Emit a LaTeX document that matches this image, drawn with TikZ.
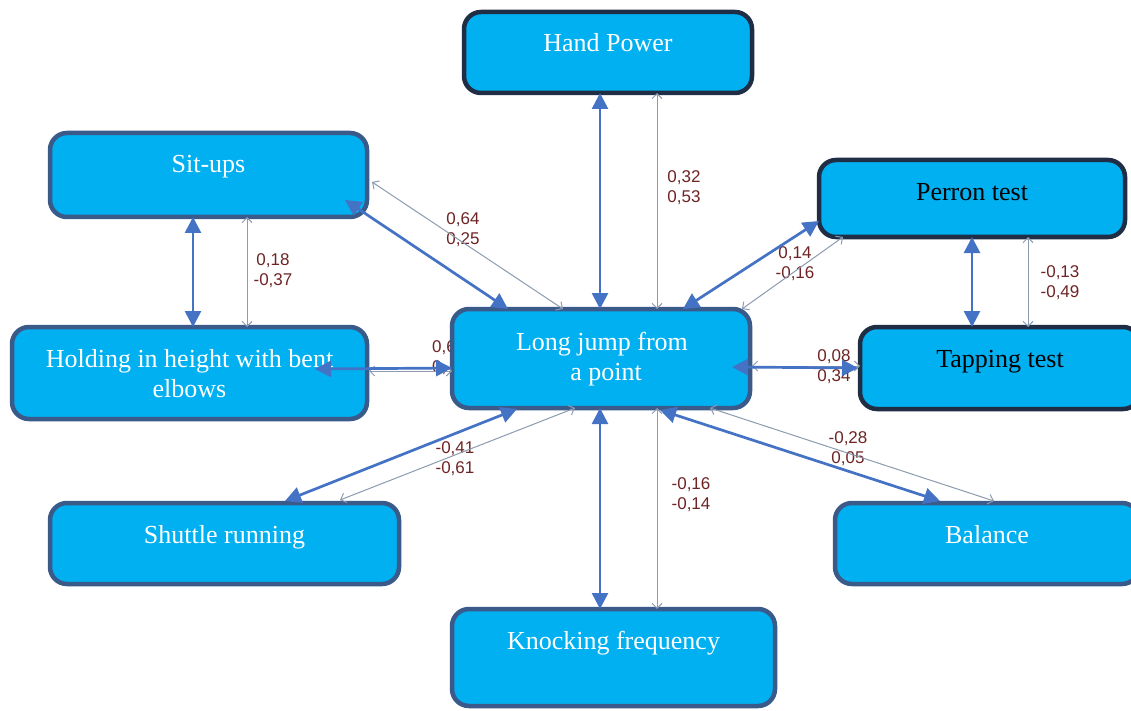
\documentclass[tikz,border=0pt]{standalone}
\usepackage{fontspec}
\setmainfont{Liberation Serif}
\newfontfamily\labfont{Liberation Sans}
\usetikzlibrary{arrows.meta}
\definecolor{boxfill}{HTML}{00B0F0}
\definecolor{boxline}{HTML}{3A5A8A}
\definecolor{boxdark}{HTML}{1F2D45}
\definecolor{arrblue}{HTML}{4472C4}
\definecolor{arrgray}{HTML}{8C9BB0}
\definecolor{labred}{HTML}{6E2424}
\tikzset{
  box/.style={draw=boxline, fill=boxfill, line width=4.5pt, rounded corners=17pt, inner sep=0pt, outer sep=0pt},
  darkbox/.style={box, draw=boxdark},
  txt/.style={text=white, font=\fontsize{26}{30}\selectfont, inner sep=0pt, anchor=base},
  btxt/.style={txt, text=black},
  lab/.style={text=labred, font=\labfont\fontsize{17}{20}\selectfont, align=center, inner sep=0pt},
  bluearr/.style={draw=arrblue, line width=2.7pt, {Triangle[length=16pt,width=16pt]}-{Triangle[length=16pt,width=16pt]}},
  grayarr/.style={draw=arrgray, line width=1pt, {Straight Barb[length=5pt,width=10pt]}-{Straight Barb[length=5pt,width=10pt]}}
}
\begin{document}
\begin{tikzpicture}[x=1pt,y=-1pt]
\useasboundingbox (0,0) rectangle (1131,711);
\clip (0,0) rectangle (1131,711);
\fill[white] (0,0) rectangle (1131,711);
% box geometry (coordinates only)
\path (608,52.5) coordinate (hc) (208.5,175) coordinate (sc) (972,198.5) coordinate (pc)
      (189.5,373) coordinate (hoc) (601,358.5) coordinate (lc) (1000,368) coordinate (tc)
      (224.5,543.5) coordinate (shc) (987,543.5) coordinate (bc) (613.5,657.5) coordinate (kc);
% labels (under boxes)
\node[lab] (l1) at (684,188) {0,32\\0,53};
\node[lab] (l2) at (463,230) {0,64\\0,25};
\node[lab] (l3) at (273,271) {0,18\\-0,37};
\node[lab] (l4) at (795,263.5) {0,14\\-0,16};
\node[lab] (l5) at (1060,282.5) {-0,13\\-0,49};
\node[lab] (l6) at (834,367) {0,08\\0,34};
\node[lab, anchor=west, align=left] (l7) at (432,358) {0,6\\0,};
\node[lab] (l8) at (455,459) {-0,41\\-0,61};
\node[lab] (l9) at (848,449) {-0,28\\0,05};
\node[lab] (l10) at (691,495) {-0,16\\-0,14};
% boxes
\node[darkbox, minimum width=288pt, minimum height=81pt] (hand) at (hc) {};
\node[box, minimum width=317pt, minimum height=84pt] (situps) at (sc) {};
\node[darkbox, minimum width=306pt, minimum height=77pt] (perron) at (pc) {};
\node[box, minimum width=355pt, minimum height=92pt] (holding) at (hoc) {};
\node[box, minimum width=298pt, minimum height=99pt] (long) at (lc) {};
\node[darkbox, minimum width=280pt, minimum height=82pt] (tapping) at (tc) {};
\node[box, minimum width=349pt, minimum height=81pt] (shuttle) at (shc) {};
\node[box, minimum width=304pt, minimum height=81pt] (balance) at (bc) {};
\node[box, minimum width=323pt, minimum height=97pt] (knock) at (kc) {};
% box texts
\node[txt] (handT) at ([shift={(0,40)}]hand.north) {Hand Power};
\node[txt] (situpsT) at ([shift={(0,40)}]situps.north) {Sit-ups};
\node[btxt] (perronT) at ([shift={(0,41)}]perron.north) {Perron test};
\node[txt] (holdingT1) at ([shift={(0,40)}]holding.north) {Holding in height with bent};
\node[txt] (holdingT2) at ([shift={(0,70)}]holding.north) {elbows};
\node[txt] (longT1) at ([shift={(1,41)}]long.north) {Long jump from};
\node[txt] (longT2) at ([shift={(5,71)}]long.north) {a point};
\node[btxt] (tappingT) at ([shift={(0,40)}]tapping.north) {Tapping test};
\node[txt] (shuttleT) at ([shift={(0,40)}]shuttle.north) {Shuttle running};
\node[txt] (balanceT) at ([shift={(0,40)}]balance.north) {Balance};
\node[txt] (knockT) at ([shift={(0,40)}]knock.north) {Knocking frequency};
% gray connectors
\draw[grayarr] ([shift={(49,0)}]hand.south) -- ([shift={(56,0)}]long.north);
\draw[grayarr] ([shift={(5,7)}]situps.east) -- ([shift={(111,0)}]long.north west);
\draw[grayarr] ([shift={(38.5,0)}]situps.south) -- ([shift={(57.5,0)}]holding.north);
\draw[grayarr] ([shift={(2,-2)}]holding.east) -- ([shift={(0,12.5)}]long.west);
\draw[grayarr] ([shift={(141,0)}]long.north) -- ([shift={(24,0)}]perron.south west);
\draw[grayarr] ([shift={(56,0)}]perron.south) -- ([shift={(28,0)}]tapping.north);
\draw[grayarr] ([shift={(2,7.5)}]long.east) -- ([shift={(0,-2)}]tapping.west);
\draw[grayarr] ([shift={(290,-3)}]shuttle.north west) -- ([shift={(123,0)}]long.south west);
\draw[grayarr] ([shift={(56,0)}]long.south) -- ([shift={(43.5,0)}]knock.north);
\draw[grayarr] ([shift={(109,0)}]long.south) -- ([shift={(159,-2)}]balance.north west);
% blue connectors
\draw[bluearr] ([shift={(-8,0)}]hand.south) -- ([shift={(-1,0)}]long.north);
\draw[bluearr] ([shift={(-22,-17)}]situps.south east) -- ([shift={(56,0)}]long.north west);
\draw[bluearr] ([shift={(-15.5,0)}]situps.south) -- ([shift={(3.5,0)}]holding.north);
\draw[bluearr] ([shift={(-52,-4)}]holding.east) -- ([shift={(0,9.5)}]long.west);
\draw[bluearr] ([shift={(82,0)}]long.north) -- ([shift={(0,-16)}]perron.south west);
\draw[bluearr] (perron.south) -- ([shift={(-28,0)}]tapping.north);
\draw[bluearr] ([shift={(-18,8.5)}]long.east) -- ([shift={(-2,0)}]tapping.west);
\draw[bluearr] ([shift={(65,1)}]long.south west) -- ([shift={(235,-2)}]shuttle.north west);
\draw[bluearr] ([shift={(-1,0)}]long.south) -- ([shift={(-13.5,0)}]knock.north);
\draw[bluearr] ([shift={(59,2)}]long.south) -- ([shift={(105,-2)}]balance.north west);
\end{tikzpicture}
\end{document}
